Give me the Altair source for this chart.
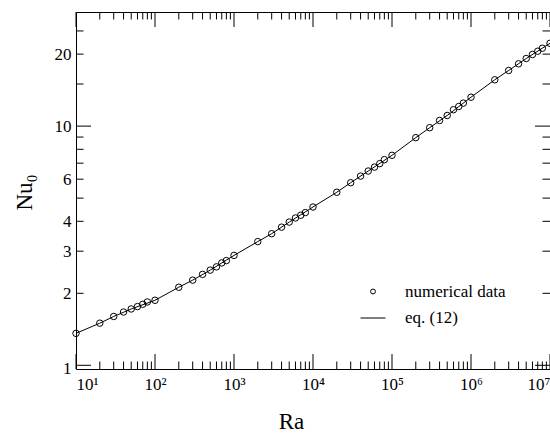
import altair as alt
import pandas as pd

# ---- data ----
ra_points = [10, 20, 30, 40, 50, 60, 70, 80, 100,
             200, 300, 400, 500, 600, 700, 800, 1000,
             2000, 3000, 4000, 5000, 6000, 7000, 8000, 10000,
             20000, 30000, 40000, 50000, 60000, 70000, 80000, 100000,
             200000, 300000, 400000, 500000, 600000, 700000, 800000, 1000000,
             2000000, 3000000, 4000000, 5000000, 6000000, 7000000, 8000000, 10000000]
nu_points = [1.36, 1.50, 1.60, 1.67, 1.72, 1.76, 1.80, 1.84, 1.87,
             2.12, 2.27, 2.40, 2.50, 2.58, 2.68, 2.74, 2.88,
             3.29, 3.55, 3.78, 3.97, 4.13, 4.24, 4.35, 4.59,
             5.29, 5.80, 6.18, 6.49, 6.74, 6.97, 7.24, 7.55,
             8.95, 9.85, 10.56, 11.08, 11.71, 12.08, 12.48, 13.21,
             15.62, 17.09, 18.22, 19.17, 19.93, 20.57, 21.17, 22.2]

ra_eq12 = [10, 20, 30, 50, 100, 200, 300, 500, 1000, 2000, 3000, 5000,
           10000, 20000, 30000, 50000, 100000, 200000, 300000, 500000,
           1000000, 2000000, 3000000, 5000000, 10000000]
nu_eq12 = [1.36, 1.50, 1.60, 1.72, 1.87, 2.12, 2.27, 2.50, 2.88, 3.29, 3.55, 3.97,
           4.59, 5.29, 5.80, 6.49, 7.55, 8.95, 9.85, 11.08,
           13.21, 15.62, 17.09, 19.17, 22.2]

series_names = ["numerical data", "eq. (12)"]

x_major_ticks = [10, 100, 1000, 10000, 100000, 1000000, 10000000]
x_tick_labels = ["10¹", "10²", "10³", "10⁴", "10⁵", "10⁶", "10⁷"]
x_minor_ticks = [m * d for d in [10, 100, 1000, 10000, 100000, 1000000] for m in range(2, 10)]

y_tick_values = [1, 2, 3, 4, 6, 10, 20]
y_tick_labels = ["1", "2", "3", "4", "6", "10", "20"]
y_long_ticks = [1, 10]
y_short_ticks = [2, 3, 4, 5, 6, 7, 8, 9, 15, 20, 25]

# ---- layout ----
W, H = 474, 357
FONT = "Liberation Serif"
x_scale = alt.Scale(type="log", domain=[10, 10000000], nice=False)
y_scale = alt.Scale(type="log", domain=[0.965, 30], nice=False)

x_label_expr = " : ".join(f"datum.value == {v} ? '{l}'" for v, l in zip(x_major_ticks, x_tick_labels)) + " : ''"
y_label_expr = " : ".join(f"datum.value == {v} ? '{l}'" for v, l in zip(y_tick_values, y_tick_labels)) + " : ''"

common_axis = dict(grid=False, ticks=False, domain=False,
                   labelFont=FONT, labelFontSize=17, labelColor="black",
                   titleFont=FONT, titleFontSize=23, titleColor="black",
                   titleFontWeight="normal")

x_axis = alt.Axis(values=x_major_ticks, labelExpr=x_label_expr, labelFlush=True,
                  labelPadding=7, title="Ra", titleX=215, titleY=59,
                  titleBaseline="alphabetic", titleAlign="center", **common_axis)
y_axis = alt.Axis(values=y_tick_values, labelExpr=y_label_expr, labelPadding=5,
                  labelOffset={"condition": {"test": "datum.value == 1", "value": 3}, "value": 0},
                  title="Nu₀", titleX=-45, titleY=180, titleAngle=270,
                  titleBaseline="alphabetic", titleAlign="center", **common_axis)

def X(field="Ra"):
    return alt.X(f"{field}:Q", scale=x_scale, axis=x_axis)

def Y(field="Nu"):
    return alt.Y(f"{field}:Q", scale=y_scale, axis=y_axis)

pts_df = pd.DataFrame({"Ra": ra_points, "Nu": nu_points, "series": series_names[0]})
eq_df = pd.DataFrame({"Ra": ra_eq12, "Nu": nu_eq12, "series": series_names[1]})

line = alt.Chart(eq_df).mark_line(color="black", strokeWidth=1).encode(x=X(), y=Y())

points = alt.Chart(pts_df).mark_point(filled=False, color="black", size=42,
                                      strokeWidth=1, opacity=1).encode(x=X(), y=Y())

legend_props = dict(title=None, orient="none", legendX=284, legendY=271,
                    labelFont=FONT, labelFontSize=17, labelColor="black",
                    labelOffset=19, symbolStrokeWidth=1,
                    symbolStrokeColor="black", symbolFillColor="transparent",
                    symbolOpacity=1, rowPadding=5, padding=0)

# legend carrier layer (draws nothing itself; its scales produce the legend)
legend_layer = alt.Chart(pts_df).transform_filter("false").mark_point(
    filled=False, color="black", strokeWidth=1, opacity=1).encode(
    x=X(), y=Y(),
    shape=alt.Shape("series:N",
                    scale=alt.Scale(domain=series_names, range=["circle", "stroke"]),
                    legend=alt.Legend(**legend_props)),
    size=alt.Size("series:N",
                  scale=alt.Scale(domain=series_names, range=[24, 625]),
                  legend=alt.Legend(**legend_props)),
)

def xticks(vals, y1, y2):
    return alt.Chart(pd.DataFrame({"Ra": vals})).mark_rule(color="black", strokeWidth=1).encode(
        x=X(), y=alt.value(y1), y2=alt.value(y2))

def yticks(vals, x1, x2):
    return alt.Chart(pd.DataFrame({"Nu": vals})).mark_rule(color="black", strokeWidth=1).encode(
        y=Y(), x=alt.value(x1), x2=alt.value(x2))

LONG, SHORT = 15, 7.5
ticks = [
    xticks(x_major_ticks, H, H - LONG), xticks(x_minor_ticks, H, H - SHORT),
    xticks(x_major_ticks, 0, LONG), xticks(x_minor_ticks, 0, SHORT),
    yticks(y_long_ticks, 0, LONG), yticks(y_short_ticks, 0, SHORT),
    yticks(y_long_ticks, W, W - LONG), yticks(y_short_ticks, W, W - SHORT),
]

chart = alt.layer(line, points, legend_layer, *ticks).properties(
    width=W, height=H, autosize="none", background="white",
    padding={"left": 76, "top": 12, "right": 0, "bottom": 64},
).configure_view(stroke="black", strokeWidth=1)

chart.save("out.html", embed_options={"renderer": "svg", "actions": False})
